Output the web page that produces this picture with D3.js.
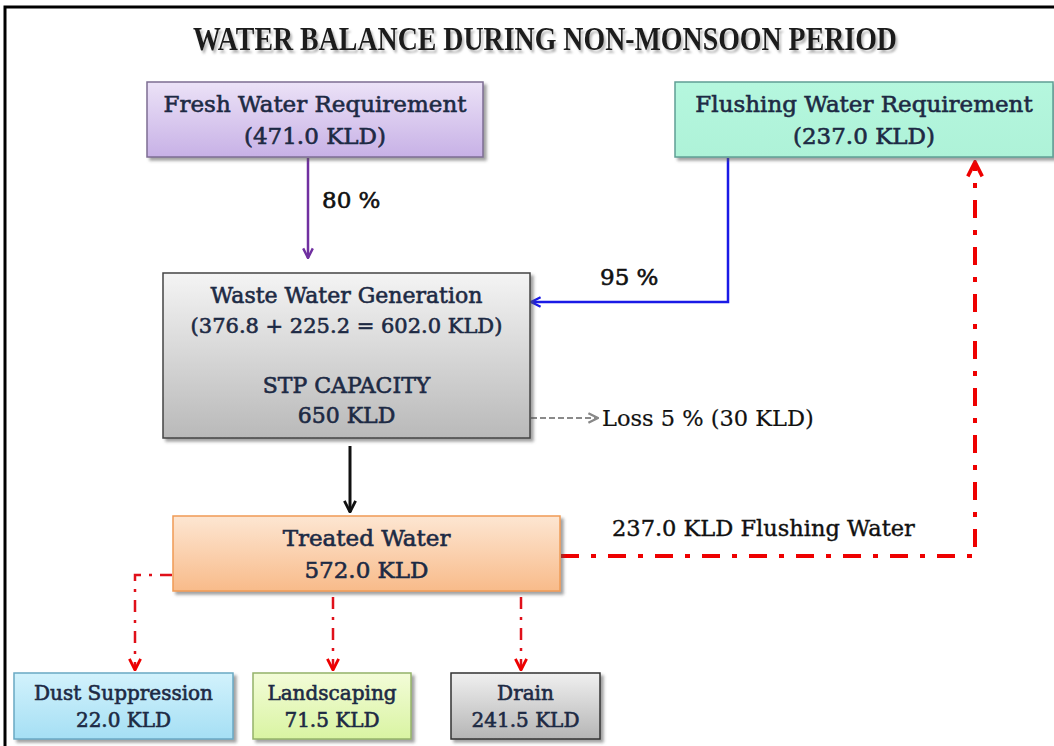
<!DOCTYPE html>
<html>
<head>
<meta charset="utf-8">
<script src="https://cdn.jsdelivr.net/npm/d3@7"></script>
<style>
  body { margin: 0; background: #fff; }
  svg { display: block; }
</style>
</head>
<body>
<script>
// flow diagram data
const title = 'WATER BALANCE DURING NON-MONSOON PERIOD';
const nodeIds = ['fresh', 'flushing', 'waste', 'treated', 'dust', 'landscape', 'drain'];
const nodeNames = ['Fresh Water Requirement', 'Flushing Water Requirement', 'Waste Water Generation',
    'Treated Water', 'Dust Suppression', 'Landscaping', 'Drain'];
const nodeValues = [471.0, 237.0, 602.0, 572.0, 22.0, 71.5, 241.5];
const wasteParts = [376.8, 225.2];
const stpCapacity = 650;
const freshPct = 80;
const flushPct = 95;
const lossPct = 5;
const lossValue = 30;
const recycleValue = 237.0;

// layout (positions / styles kept apart from data)
const layout = {
    fresh:     { x: 147, y: 82,  w: 336, h: 75,  fs: 23, lh: 32, fill: ['#ece2f7', '#c7b1e6'], stroke: '#7d6d93' },
    flushing:  { x: 675, y: 82,  w: 378, h: 75,  fs: 23, lh: 32, fill: ['#b5f7de', '#aef2d8'], stroke: '#5f9f95' },
    waste:     { x: 163, y: 273, w: 367, h: 165, fs: 22, lh: 30, fill: ['#f4f4f4', '#b9b9b9'], stroke: '#444' },
    treated:   { x: 173, y: 516, w: 387, h: 75,  fs: 23, lh: 32, fill: ['#fde6d2', '#f8bb8a'], stroke: '#ef9b55' },
    dust:      { x: 14,  y: 673, w: 219, h: 66,  fs: 20, lh: 27, fill: ['#d2f2fc', '#a5dff4'], stroke: '#6aa9c4' },
    landscape: { x: 253, y: 673, w: 158, h: 66,  fs: 20, lh: 27, fill: ['#f3fcd8', '#d9f4a2'], stroke: '#94b36a' },
    drain:     { x: 451, y: 673, w: 149, h: 66,  fs: 20, lh: 27, fill: ['#f0f0f0', '#b5b5b5'], stroke: '#333' }
};

const W = 1054, H = 746;
const fmt = d3.format('.1f');
const serif = "'DejaVu Serif', 'Liberation Serif', serif";

const svg = d3.select('body').append('svg')
    .attr('width', W)
    .attr('height', H);

const defs = svg.append('defs');

defs.append('filter').attr('id', 'shadow')
    .attr('x', '-5%').attr('y', '-5%').attr('width', '115%').attr('height', '125%')
    .append('feDropShadow')
    .attr('dx', 3).attr('dy', 3).attr('stdDeviation', 1.5)
    .attr('flood-color', '#555').attr('flood-opacity', 0.55);

defs.append('filter').attr('id', 'tshadow')
    .append('feDropShadow')
    .attr('dx', 2).attr('dy', 3).attr('stdDeviation', 1)
    .attr('flood-color', '#888').attr('flood-opacity', 0.6);

nodeIds.forEach(id => {
    const g = defs.append('linearGradient').attr('id', 'grad-' + id)
        .attr('x1', 0).attr('y1', 0).attr('x2', 0).attr('y2', 1);
    g.append('stop').attr('offset', '0%').attr('stop-color', layout[id].fill[0]);
    g.append('stop').attr('offset', '100%').attr('stop-color', layout[id].fill[1]);
});

function marker(id, color, size) {
    defs.append('marker').attr('id', id)
        .attr('viewBox', '0 0 10 10')
        .attr('refX', 9).attr('refY', 5)
        .attr('markerUnits', 'userSpaceOnUse')
        .attr('markerWidth', size).attr('markerHeight', size)
        .attr('orient', 'auto')
        .append('path')
        .attr('d', 'M1,1 L9,5 L1,9')
        .attr('fill', 'none')
        .attr('stroke', color)
        .attr('stroke-width', 2);
}
marker('arr-purple', '#7030a0', 12);
marker('arr-blue', '#1a1ae6', 12);
marker('arr-black', '#111', 14);
marker('arr-gray', '#888', 12);
marker('arr-red', '#ee0000', 14);
marker('arr-red-big', '#ee0000', 18);

// outer frame
svg.append('rect')
    .attr('x', 5).attr('y', 7)
    .attr('width', W + 10).attr('height', H + 10)
    .attr('fill', 'none')
    .attr('stroke', '#000')
    .attr('stroke-width', 3);

// title
svg.append('text')
    .attr('x', 545).attr('y', 50)
    .attr('text-anchor', 'middle')
    .attr('font-family', "'Liberation Serif', serif")
    .attr('font-size', 33)
    .attr('font-weight', 'bold')
    .attr('textLength', 704)
    .attr('lengthAdjust', 'spacingAndGlyphs')
    .attr('fill', '#1a1a1a')
    .attr('filter', 'url(#tshadow)')
    .text(title);
svg.append('line')
    .attr('x1', 193).attr('x2', 897)
    .attr('y1', 53.5).attr('y2', 53.5)
    .attr('stroke', '#222').attr('stroke-width', 2)
    .attr('filter', 'url(#tshadow)');

// links
const links = [
    { d: 'M308,158 L308,258', color: '#7030a0', w: 2.5, dash: null, m: 'arr-purple' },
    { d: 'M728,158 L728,302 L531,302', color: '#1a1ae6', w: 2.5, dash: null, m: 'arr-blue' },
    { d: 'M531,418 L598,418', color: '#8a8a8a', w: 2, dash: '6,3', m: 'arr-gray' },
    { d: 'M350,446 L350,512', color: '#111', w: 3, dash: null, m: 'arr-black' },
    { d: 'M561,556 L975,556 L975,162', color: '#ee0000', w: 4, dash: '18,12,5,12', m: 'arr-red-big' },
    { d: 'M172,575 L135,575 L135,670', color: '#e0101a', w: 2.5, dash: '12,8,3,8', m: 'arr-red' },
    { d: 'M333,597 L333,670', color: '#e0101a', w: 2.5, dash: '12,8,3,8', m: 'arr-red' },
    { d: 'M521,597 L521,670', color: '#e0101a', w: 2.5, dash: '12,8,3,8', m: 'arr-red' }
];

svg.selectAll('.link').data(links).enter()
    .append('path')
    .attr('class', 'link')
    .attr('d', d => d.d)
    .attr('fill', 'none')
    .attr('stroke', d => d.color)
    .attr('stroke-width', d => d.w)
    .attr('stroke-dasharray', d => d.dash)
    .attr('marker-end', d => `url(#${d.m})`);

// link labels
const linkLabels = [
    { x: 322, y: 208, t: `${freshPct} %`, fs: 23, sw: 0.6 },
    { x: 600, y: 285, t: `${flushPct} %`, fs: 23, sw: 0.6 },
    { x: 602, y: 426, t: `Loss ${lossPct} % (${lossValue} KLD)`, fs: 22.5, sw: 0.2 },
    { x: 612, y: 536, t: `${fmt(recycleValue)} KLD Flushing Water`, fs: 22.5, sw: 0.4 }
];
svg.selectAll('.llabel').data(linkLabels).enter()
    .append('text')
    .attr('class', 'llabel')
    .attr('x', d => d.x).attr('y', d => d.y)
    .attr('font-family', serif)
    .attr('font-size', d => d.fs)
    .attr('fill', '#111')
    .attr('stroke', '#111')
    .attr('stroke-width', d => d.sw)
    .text(d => d.t);

// nodes
const nodes = nodeIds.map((id, i) => {
    let lines;
    if (id === 'fresh' || id === 'flushing') {
        lines = [nodeNames[i], `(${fmt(nodeValues[i])} KLD)`];
    } else if (id === 'waste') {
        lines = [nodeNames[i],
            `(${fmt(wasteParts[0])} + ${fmt(wasteParts[1])} = ${fmt(nodeValues[i])} KLD)`,
            '', 'STP CAPACITY', `${stpCapacity} KLD`];
    } else {
        lines = [nodeNames[i], `${fmt(nodeValues[i])} KLD`];
    }
    return { id, lines, ...layout[id] };
});

const nodeG = svg.selectAll('.node').data(nodes).enter()
    .append('g')
    .attr('class', 'node')
    .attr('transform', d => `translate(${d.x},${d.y})`);

nodeG.append('rect')
    .attr('width', d => d.w)
    .attr('height', d => d.h)
    .attr('fill', d => `url(#grad-${d.id})`)
    .attr('stroke', d => d.stroke)
    .attr('stroke-width', 1.5)
    .attr('filter', 'url(#shadow)');

nodeG.each(function (d) {
    const top = d.h / 2 - (d.lines.length - 1) * d.lh / 2 + d.fs * 0.36;
    d3.select(this).selectAll('text').data(d.lines).enter()
        .append('text')
        .attr('x', d.w / 2)
        .attr('y', (l, i) => top + i * d.lh)
        .attr('text-anchor', 'middle')
        .attr('font-family', serif)
        .attr('font-size', (l, i) => (d.id === 'waste' && i === 1) ? 21 : d.fs)
        .attr('fill', '#1d2a44')
        .attr('stroke', '#1d2a44')
        .attr('stroke-width', 0.6)
        .text(l => l);
});
</script>
</body>
</html>
